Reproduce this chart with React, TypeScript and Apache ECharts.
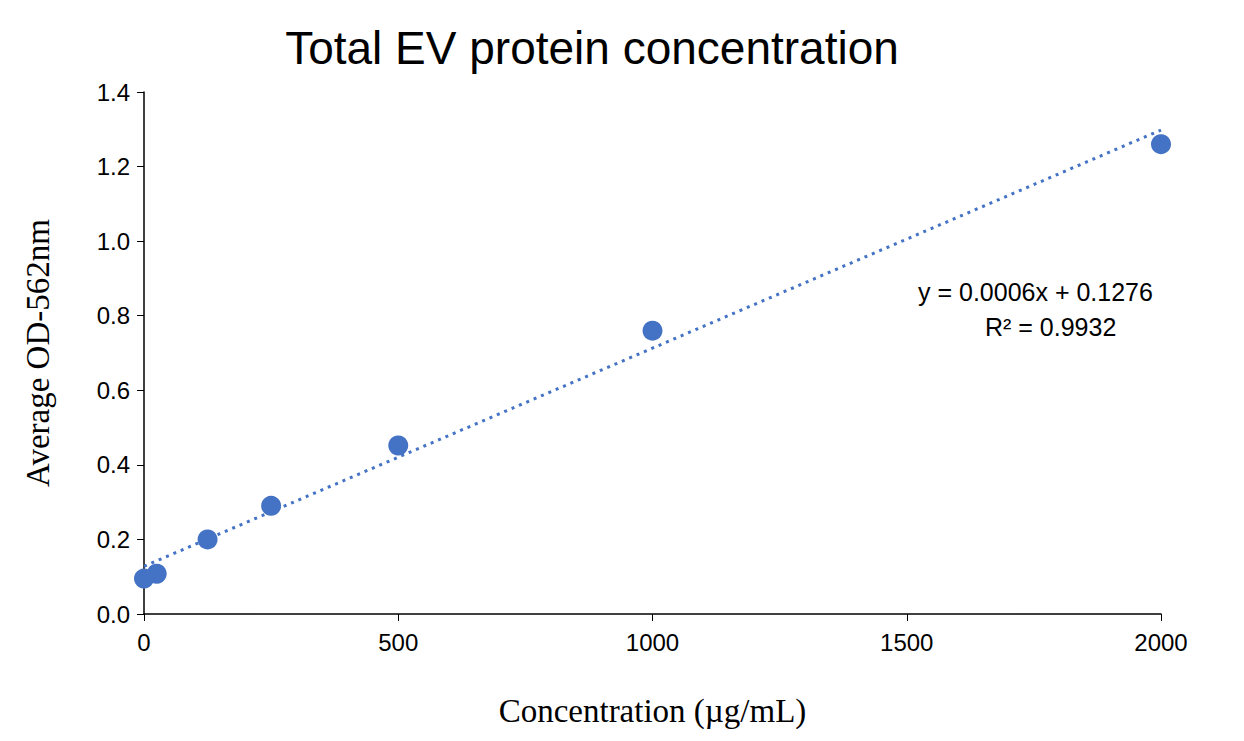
import React, { useEffect, useRef } from 'react';
import * as echarts from 'echarts';

const concentrations = [0, 25, 125, 250, 500, 1000, 2000];
const odValues = [0.095, 0.108, 0.2, 0.29, 0.452, 0.76, 1.26];
const trendX = [0, 2000];
const trendY = [0.128, 1.298];

const App: React.FC = () => {
  const chartRef = useRef<HTMLDivElement>(null);

  useEffect(() => {
    if (!chartRef.current) return;
    const chart = echarts.init(chartRef.current, undefined, { renderer: 'svg' });
    const axisLabel = { color: '#000', fontSize: 24, fontFamily: 'Liberation Sans, Arial' };
    chart.setOption({
      animation: false,
      backgroundColor: '#fff',
      title: {
        text: 'Total EV protein concentration',
        left: 579,
        top: 12,
        textAlign: 'center',
        textStyle: { fontSize: 46, fontWeight: 'normal', color: '#000', fontFamily: 'Liberation Sans, Arial' },
      },
      grid: { left: 136, right: 75, top: 84, bottom: 119 },
      xAxis: {
        type: 'value',
        min: 0,
        max: 2000,
        interval: 500,
        name: 'Concentration (µg/mL)',
        nameLocation: 'middle',
        nameGap: 80,
        nameTextStyle: { fontSize: 33, color: '#000', fontFamily: 'Liberation Serif, Times New Roman' },
        axisLine: { show: true, lineStyle: { color: '#000', width: 1.5 } },
        axisTick: { show: true, length: 7, lineStyle: { color: '#000' } },
        axisLabel: { ...axisLabel, margin: 16, formatter: (v: number) => String(v) },
        splitLine: { show: false },
      },
      yAxis: {
        type: 'value',
        min: 0,
        max: 1.4,
        interval: 0.2,
        name: 'Average OD-562nm',
        nameLocation: 'middle',
        nameGap: 90,
        nameTextStyle: { fontSize: 33, color: '#000', fontFamily: 'Liberation Serif, Times New Roman' },
        axisLine: { show: true, lineStyle: { color: '#000', width: 1.5 } },
        axisTick: { show: true, length: 7, lineStyle: { color: '#000' } },
        axisLabel: { ...axisLabel, margin: 14, formatter: (v: number) => v.toFixed(1) },
        splitLine: { show: false },
      },
      series: [
        {
          type: 'line',
          data: trendX.map((x, i) => [x, trendY[i]]),
          symbol: 'none',
          lineStyle: { color: '#4472C4', width: 3, type: [3, 5] },
          z: 1,
        },
        {
          type: 'scatter',
          data: concentrations.map((x, i) => [x, odValues[i]]),
          symbolSize: 20,
          itemStyle: { color: '#4472C4', opacity: 1 },
          z: 2,
        },
      ],
      graphic: [
        {
          type: 'text',
          left: 910,
          top: 271,
          style: { text: 'y = 0.0006x + 0.1276', fontSize: 25, fill: '#000', fontFamily: 'Liberation Sans, Arial' },
        },
        {
          type: 'text',
          left: 977,
          top: 306,
          style: { text: 'R² = 0.9932', fontSize: 25, fill: '#000', fontFamily: 'Liberation Sans, Arial' },
        },
      ],
    });
    return () => chart.dispose();
  }, []);

  return <div ref={chartRef} style={{ width: 1228, height: 725 }} />;
};

export default App;
